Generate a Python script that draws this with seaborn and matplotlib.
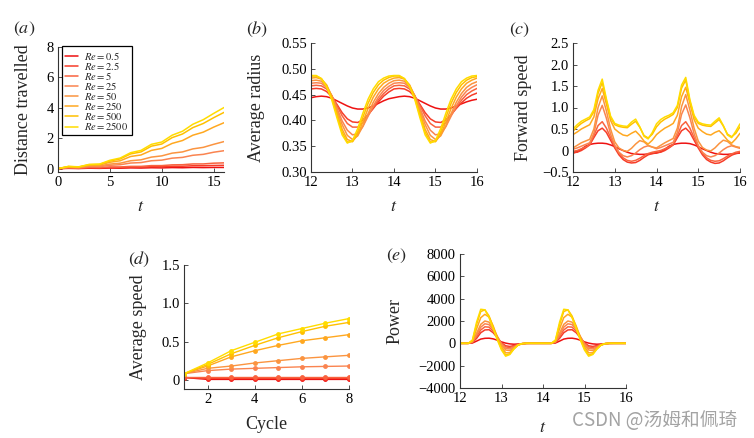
import matplotlib
matplotlib.use("Agg")
import matplotlib.pyplot as plt
import seaborn as sns
import pandas as pd

# ---------------- data ----------------
re_labels = [r"$Re=0.5$", r"$Re=2.5$", r"$Re=5$", r"$Re=25$", r"$Re=50$",
             r"$Re=250$", r"$Re=500$", r"$Re=2500$"]
colors = ["#ee1111", "#f63c28", "#f9623e", "#fa8450", "#fb9440",
          "#ffa820", "#ffc000", "#ffdc00"]

# (a) distance travelled
t_a = [0, 1, 2, 3, 4, 5, 6, 7, 8, 9, 10, 11, 12, 13, 14, 15, 16]
a_0_5 = [0, .02, .01, .03, .02, .04, .03, .05, .04, .06, .05, .07, .06, .08, .07, .08, .08]
a_2_5 = [0, .04, .02, .06, .05, .08, .08, .10, .10, .13, .13, .16, .16, .19, .19, .21, .22]
a_5 = [0, .05, .03, .08, .07, .11, .11, .15, .15, .20, .20, .25, .26, .31, .31, .36, .38]
a_25 = [0, .08, .06, .14, .13, .22, .26, .37, .40, .52, .56, .69, .74, .88, .94, 1.08, 1.18]
a_50 = [0, .10, .08, .18, .18, .30, .36, .52, .58, .76, .84, 1.02, 1.10, 1.30, 1.40, 1.60, 1.78]
a_250 = [0, .13, .10, .23, .24, .42, .52, .80, .90, 1.20, 1.33, 1.66, 1.85, 2.20, 2.40, 2.73, 3.02]
a_500 = [0, .14, .11, .26, .28, .50, .64, .97, 1.10, 1.48, 1.62, 2.04, 2.28, 2.70, 2.97, 3.35, 3.70]
a_2500 = [0, .15, .12, .28, .30, .55, .70, 1.05, 1.20, 1.60, 1.75, 2.20, 2.46, 2.92, 3.22, 3.63, 4.02]

# (b) average radius
t_b = [12.0, 12.125, 12.25, 12.375, 12.5, 12.625, 12.75, 12.875, 13.0, 13.125, 13.25, 13.375,
       13.5, 13.625, 13.75, 13.875, 14.0, 14.125, 14.25, 14.375, 14.5, 14.625, 14.75, 14.875,
       15.0, 15.125, 15.25, 15.375, 15.5, 15.625, 15.75, 15.875, 16.0]
b_0_5 = [.444, .446, .447, .446, .443, .438, .433, .428, .424, .422, .422, .424, .428, .433, .438, .442, .444,
         .446, .447, .446, .443, .438, .433, .428, .424, .422, .422, .424, .428, .432, .436, .439, .441]
b_2_5 = [.461, .462, .461, .456, .446, .431, .415, .403, .397, .396, .401, .411, .423, .436, .447, .455, .461,
         .462, .461, .456, .446, .431, .415, .403, .397, .396, .401, .411, .423, .434, .443, .449, .453]
b_5 = [.467, .468, .467, .461, .448, .429, .409, .394, .387, .387, .396, .410, .425, .440, .452, .461, .467,
       .468, .467, .461, .448, .429, .409, .394, .387, .387, .396, .410, .425, .439, .450, .457, .462]
b_25 = [.472, .473, .472, .464, .448, .424, .399, .381, .372, .374, .388, .408, .428, .445, .458, .466, .472,
        .473, .472, .464, .448, .424, .399, .381, .372, .374, .388, .408, .428, .445, .457, .464, .469]
b_50 = [.477, .478, .476, .467, .448, .420, .392, .371, .363, .370, .389, .413, .435, .452, .464, .472, .477,
        .478, .476, .467, .448, .420, .392, .371, .363, .370, .389, .413, .435, .452, .464, .471, .475]
b_250 = [.482, .483, .480, .469, .447, .415, .383, .363, .359, .372, .397, .423, .445, .461, .472, .478, .482,
         .483, .480, .469, .447, .415, .383, .363, .359, .372, .397, .423, .445, .461, .472, .478, .482]
b_500 = [.486, .486, .481, .467, .443, .410, .377, .358, .359, .378, .406, .433, .454, .469, .478, .483, .486,
         .486, .481, .467, .443, .410, .377, .358, .359, .378, .406, .433, .454, .469, .478, .483, .485]
b_2500 = [.487, .487, .481, .465, .440, .405, .372, .356, .361, .384, .414, .441, .461, .475, .482, .486, .487,
          .487, .481, .466, .441, .405, .372, .356, .361, .384, .414, .441, .461, .475, .482, .486, .487]

# (c) forward speed and (e) power share one time grid
t_ce = [12.0, 12.1, 12.2, 12.3, 12.4, 12.5, 12.6, 12.7, 12.8, 12.9, 13.0, 13.1, 13.2, 13.3,
        13.4, 13.5, 13.6, 13.7, 13.8, 13.9, 14.0, 14.1, 14.2, 14.3, 14.4, 14.5, 14.6, 14.7,
        14.8, 14.9, 15.0, 15.1, 15.2, 15.3, 15.4, 15.5, 15.6, 15.7, 15.8, 15.9, 16.0]
c_0_5 = [-.06, -.03, .03, .10, .14, .16, .17, .17, .16, .13, .09, .04, .00, -.04, -.07, -.08, -.09, -.09, -.08, -.07,
         -.06, -.03, .03, .10, .14, .16, .17, .17, .16, .13, .09, .04, .00, -.04, -.07, -.08, -.09, -.09, -.08, -.07, -.06]
c_2_5 = [-.05, -.04, .00, .06, .13, .30, .46, .52, .42, .24, .06, -.10, -.21, -.27, -.29, -.28, -.23, -.16, -.10, -.07,
         -.05, -.04, .00, .06, .13, .30, .46, .52, .42, .24, .06, -.10, -.21, -.27, -.30, -.29, -.24, -.17, -.11, -.07, -.05]
c_5 = [-.02, .00, .04, .08, .14, .35, .58, .67, .52, .30, .10, -.06, -.17, -.23, -.25, -.23, -.18, -.12, -.07, -.04,
       -.02, .00, .04, .08, .14, .35, .58, .67, .52, .30, .10, -.06, -.17, -.23, -.25, -.24, -.19, -.13, -.08, -.04, -.02]
c_25 = [.03, .06, .10, .14, .18, .40, .82, 1.05, .75, .38, .12, -.04, -.12, -.15, -.12, -.06, .02, .08, .11, .08,
        .04, .07, .11, .15, .19, .42, .84, 1.06, .76, .39, .12, -.04, -.12, -.15, -.12, -.06, .02, .08, .11, .08, .05]
c_50 = [.06, .12, .18, .22, .26, .50, 1.00, 1.27, .92, .50, .20, .06, .00, -.02, .05, .15, .23, .20, .12, .08,
        .06, .12, .18, .23, .28, .52, 1.02, 1.30, .94, .52, .22, .07, .01, -.01, .06, .16, .24, .21, .13, .09, .07]
c_250 = [.37, .43, .50, .55, .60, .78, 1.20, 1.44, 1.08, .70, .50, .42, .36, .34, .40, .45, .35, .22, .15, .24,
         .37, .45, .52, .57, .63, .82, 1.25, 1.47, 1.10, .72, .52, .44, .38, .36, .42, .46, .36, .24, .17, .27, .40]
c_500 = [.45, .55, .63, .69, .74, .90, 1.33, 1.58, 1.16, .77, .60, .56, .54, .53, .61, .68, .54, .35, .29, .38,
         .55, .66, .73, .78, .84, 1.00, 1.45, 1.64, 1.14, .79, .63, .59, .57, .56, .64, .72, .57, .38, .32, .40, .55]
c_2500 = [.50, .60, .68, .73, .78, .95, 1.40, 1.66, 1.20, .80, .63, .59, .57, .56, .66, .73, .55, .33, .27, .42,
          .62, .72, .78, .82, .88, 1.05, 1.52, 1.70, 1.18, .82, .66, .62, .60, .59, .68, .76, .58, .36, .30, .45, .62]

e_0_5 = [0, 0, 0, 30, 200, 380, 450, 460, 400, 280, 130, 20, -50, -80, -60, -30, -10, 0, 0, 0,
         0, 0, 0, 30, 200, 380, 450, 460, 400, 280, 130, 20, -50, -80, -60, -30, -10, 0, 0, 0, 0]
e_2_5 = [0, 0, 0, 80, 450, 950, 1200, 1220, 950, 500, 50, -220, -280, -200, -90, -30, 0, 0, 0, 0,
         0, 0, 0, 80, 450, 950, 1200, 1220, 950, 500, 50, -220, -280, -200, -90, -30, 0, 0, 0, 0, 0]
e_5 = [0, 0, 0, 100, 600, 1200, 1480, 1450, 1100, 550, 0, -320, -380, -260, -110, -30, 0, 0, 0, 0,
       0, 0, 0, 100, 600, 1200, 1480, 1450, 1100, 550, 0, -320, -380, -260, -110, -30, 0, 0, 0, 0, 0]
e_25 = [0, 0, 0, 120, 750, 1450, 1750, 1680, 1250, 600, -50, -450, -500, -330, -130, -40, 0, 0, 0, 0,
        0, 0, 0, 120, 750, 1450, 1750, 1680, 1250, 600, -50, -450, -500, -330, -130, -40, 0, 0, 0, 0, 0]
e_50 = [0, 0, 0, 150, 900, 1700, 2000, 1900, 1350, 600, -150, -600, -650, -400, -150, -40, 0, 0, 0, 0,
        0, 0, 0, 150, 900, 1700, 2000, 1900, 1350, 600, -150, -600, -650, -400, -150, -40, 0, 0, 0, 0, 0]
e_250 = [0, 0, 0, 200, 1300, 2300, 2600, 2350, 1550, 550, -300, -850, -850, -450, -150, -30, 0, 0, 0, 0,
         0, 0, 0, 200, 1300, 2300, 2600, 2350, 1550, 550, -300, -850, -850, -450, -150, -30, 0, 0, 0, 0, 0]
e_500 = [0, 0, 0, 250, 1700, 2850, 3000, 2450, 1450, 400, -500, -1050, -950, -500, -150, -20, 0, 0, 0, 0,
         0, 0, 0, 250, 1700, 2850, 3000, 2450, 1450, 400, -500, -1050, -950, -500, -150, -20, 0, 0, 0, 0, 0]
e_2500 = [0, 0, 0, 300, 1900, 3050, 3000, 2300, 1300, 300, -600, -1150, -1000, -500, -150, -20, 0, 0, 0, 0,
          0, 0, 0, 300, 1900, 3050, 3000, 2300, 1300, 300, -600, -1150, -1000, -500, -150, -20, 0, 0, 0, 0, 0]

# (d) average speed per cycle
cycles = [1, 2, 3, 4, 5, 6, 7, 8]
d_0_5 = [.03, .005, .005, .005, .005, .005, .005, .005]
d_2_5 = [.03, .02, .02, .02, .02, .02, .02, .02]
d_5 = [.04, .04, .04, .04, .04, .04, .04, .04]
d_25 = [.08, .12, .14, .15, .16, .17, .175, .18]
d_50 = [.08, .15, .18, .22, .25, .28, .30, .32]
d_250 = [.08, .18, .30, .38, .45, .51, .55, .59]
d_500 = [.08, .20, .34, .45, .55, .63, .70, .75]
d_2500 = [.08, .22, .38, .49, .60, .67, .74, .80]

# tick labels
a_xticks = [0, 5, 10, 15]
a_yticks = [0, 2, 4, 6, 8]
b_yticks = [0.30, 0.35, 0.40, 0.45, 0.50, 0.55]
b_ylabels = ["0.30", "0.35", "0.40", "0.45", "0.50", "0.55"]
c_yticks = [-0.5, 0, 0.5, 1.0, 1.5, 2.0, 2.5]
c_ylabels = ["\u22120.5", "0", "0.5", "1.0", "1.5", "2.0", "2.5"]
d_xticks = [2, 4, 6, 8]
d_yticks = [0, 0.5, 1.0, 1.5]
d_ylabels = ["0", "0.5", "1.0", "1.5"]
e_yticks = [-4000, -2000, 0, 2000, 4000, 6000, 8000]
e_ylabels = ["\u22124000", "\u22122000", "0", "2000", "4000", "6000", "8000"]
t_ticks = [12, 13, 14, 15, 16]

# ---------------- style ----------------
sns.set_style("ticks")
plt.rcParams["font.family"] = ["Liberation Serif", "DejaVu Serif"]
plt.rcParams["mathtext.fontset"] = "stix"
plt.rcParams["axes.unicode_minus"] = True

TICK_FS = 10.5
LAB_FS = 13


def long_frame(x, series):
    rows = []
    for lab, vals in zip(re_labels, series):
        for xi, v in zip(x, vals):
            rows.append((xi, v, lab))
    return pd.DataFrame(rows, columns=["x", "v", "Re"])


def style_ax(ax):
    for s in ["top", "right"]:
        ax.spines[s].set_visible(False)
    for s in ["left", "bottom"]:
        ax.spines[s].set_color("#333333")
        ax.spines[s].set_linewidth(0.8)
    ax.tick_params(direction="in", length=3, width=0.6, colors="#333333",
                   labelcolor="black", labelsize=TICK_FS, pad=3)
    ax.set_xlabel("")
    ax.set_ylabel("")


W, H = 754, 438
fig = plt.figure(figsize=(W / 100, H / 100), dpi=100)


def add_ax(l, r, t, b):
    return fig.add_axes([l / W, 1 - b / H, (r - l) / W, (b - t) / H])


ax_a = add_ax(58, 224, 47, 172)
ax_b = add_ax(311, 477, 43, 172)
ax_c = add_ax(573, 740, 43, 172)
ax_d = add_ax(184, 349, 265, 389)
ax_e = add_ax(460, 626, 254, 388)

lw = 1.1
pal = dict(zip(re_labels, colors))

# (a)
df = long_frame(t_a, [a_0_5, a_2_5, a_5, a_25, a_50, a_250, a_500, a_2500])
sns.lineplot(data=df, x="x", y="v", hue="Re", hue_order=re_labels, palette=pal,
             ax=ax_a, linewidth=lw, legend=False, estimator=None)
style_ax(ax_a)
ax_a.set_xlim(0, 16)
ax_a.set_ylim(-0.22, 8)
ax_a.set_xticks(a_xticks)
ax_a.set_yticks(a_yticks)
ax_a.set_ylabel("Distance travelled", fontsize=LAB_FS)
ax_a.set_xlabel(r"$t$", fontsize=LAB_FS)
leg = ax_a.legend(ax_a.get_lines()[:8], re_labels, loc="upper left",
                  bbox_to_anchor=(0.025, 1.005), borderaxespad=0, fontsize=7.6,
                  frameon=True, fancybox=False, framealpha=1, edgecolor="black",
                  handlelength=1.2, handletextpad=0.6, labelspacing=-0.18,
                  borderpad=0.3)
leg.get_frame().set_linewidth(0.9)

# (b)
df = long_frame(t_b, [b_0_5, b_2_5, b_5, b_25, b_50, b_250, b_500, b_2500])
sns.lineplot(data=df, x="x", y="v", hue="Re", hue_order=re_labels, palette=pal,
             ax=ax_b, linewidth=lw, legend=False, estimator=None)
style_ax(ax_b)
ax_b.set_xlim(12, 16)
ax_b.set_ylim(0.30, 0.55)
ax_b.set_xticks(t_ticks)
ax_b.set_yticks(b_yticks)
ax_b.set_yticklabels(b_ylabels)
ax_b.set_ylabel("Average radius", fontsize=LAB_FS)
ax_b.set_xlabel(r"$t$", fontsize=LAB_FS)

# (c)
df = long_frame(t_ce, [c_0_5, c_2_5, c_5, c_25, c_50, c_250, c_500, c_2500])
sns.lineplot(data=df, x="x", y="v", hue="Re", hue_order=re_labels, palette=pal,
             ax=ax_c, linewidth=lw, legend=False, estimator=None)
style_ax(ax_c)
ax_c.set_xlim(12, 16)
ax_c.set_ylim(-0.5, 2.5)
ax_c.set_xticks(t_ticks)
ax_c.set_yticks(c_yticks)
ax_c.set_yticklabels(c_ylabels)
ax_c.set_ylabel("Forward speed", fontsize=LAB_FS)
ax_c.set_xlabel(r"$t$", fontsize=LAB_FS)

# (d)
df = long_frame(cycles, [d_0_5, d_2_5, d_5, d_25, d_50, d_250, d_500, d_2500])
sns.lineplot(data=df, x="x", y="v", hue="Re", hue_order=re_labels, palette=pal,
             ax=ax_d, linewidth=1.0, legend=False, estimator=None,
             marker="o", markersize=3.5, markeredgewidth=0)
style_ax(ax_d)
ax_d.set_xlim(1, 8)
ax_d.set_ylim(-0.12, 1.5)
ax_d.set_xticks(d_xticks)
ax_d.set_yticks(d_yticks)
ax_d.set_yticklabels(d_ylabels)
ax_d.set_ylabel("Average speed", fontsize=LAB_FS)
ax_d.set_xlabel("Cycle", fontsize=LAB_FS)

# (e)
df = long_frame(t_ce, [e_0_5, e_2_5, e_5, e_25, e_50, e_250, e_500, e_2500])
sns.lineplot(data=df, x="x", y="v", hue="Re", hue_order=re_labels, palette=pal,
             ax=ax_e, linewidth=lw, legend=False, estimator=None)
style_ax(ax_e)
ax_e.set_xlim(12, 16)
ax_e.set_ylim(-4000, 8000)
ax_e.set_xticks(t_ticks)
ax_e.set_yticks(e_yticks)
ax_e.set_yticklabels(e_ylabels)
ax_e.set_ylabel("Power", fontsize=LAB_FS)
ax_e.set_xlabel(r"$t$", fontsize=LAB_FS)

# label positions (axes coords)
ax_a.yaxis.set_label_coords(-0.157, 0.5)
ax_b.yaxis.set_label_coords(-0.277, 0.5)
ax_c.yaxis.set_label_coords(-0.246, 0.5)
ax_d.yaxis.set_label_coords(-0.224, 0.5)
ax_e.yaxis.set_label_coords(-0.343, 0.5)
ax_a.xaxis.set_label_coords(0.5, -0.21)
ax_b.xaxis.set_label_coords(0.5, -0.20)
ax_c.xaxis.set_label_coords(0.5, -0.20)
ax_d.xaxis.set_label_coords(0.5, -0.215)
ax_e.xaxis.set_label_coords(0.5, -0.232)

# panel labels
for lab, (px, py) in zip([r"$(a)$", r"$(b)$", r"$(c)$", r"$(d)$", r"$(e)$"],
                         [(24, 29), (257, 29), (520, 30), (139, 259), (397, 256)]):
    fig.text(px / W, 1 - py / H, lab, fontsize=LAB_FS, ha="center", va="center")

# watermark
fig.text(737 / W, 1 - 420 / H, "CSDN @汤姆和佩琦", fontsize=13.5, color="#a3a3a3",
         ha="right", va="center", family=["Noto Sans CJK SC", "DejaVu Sans"])

fig.savefig("out.png", dpi=100)
